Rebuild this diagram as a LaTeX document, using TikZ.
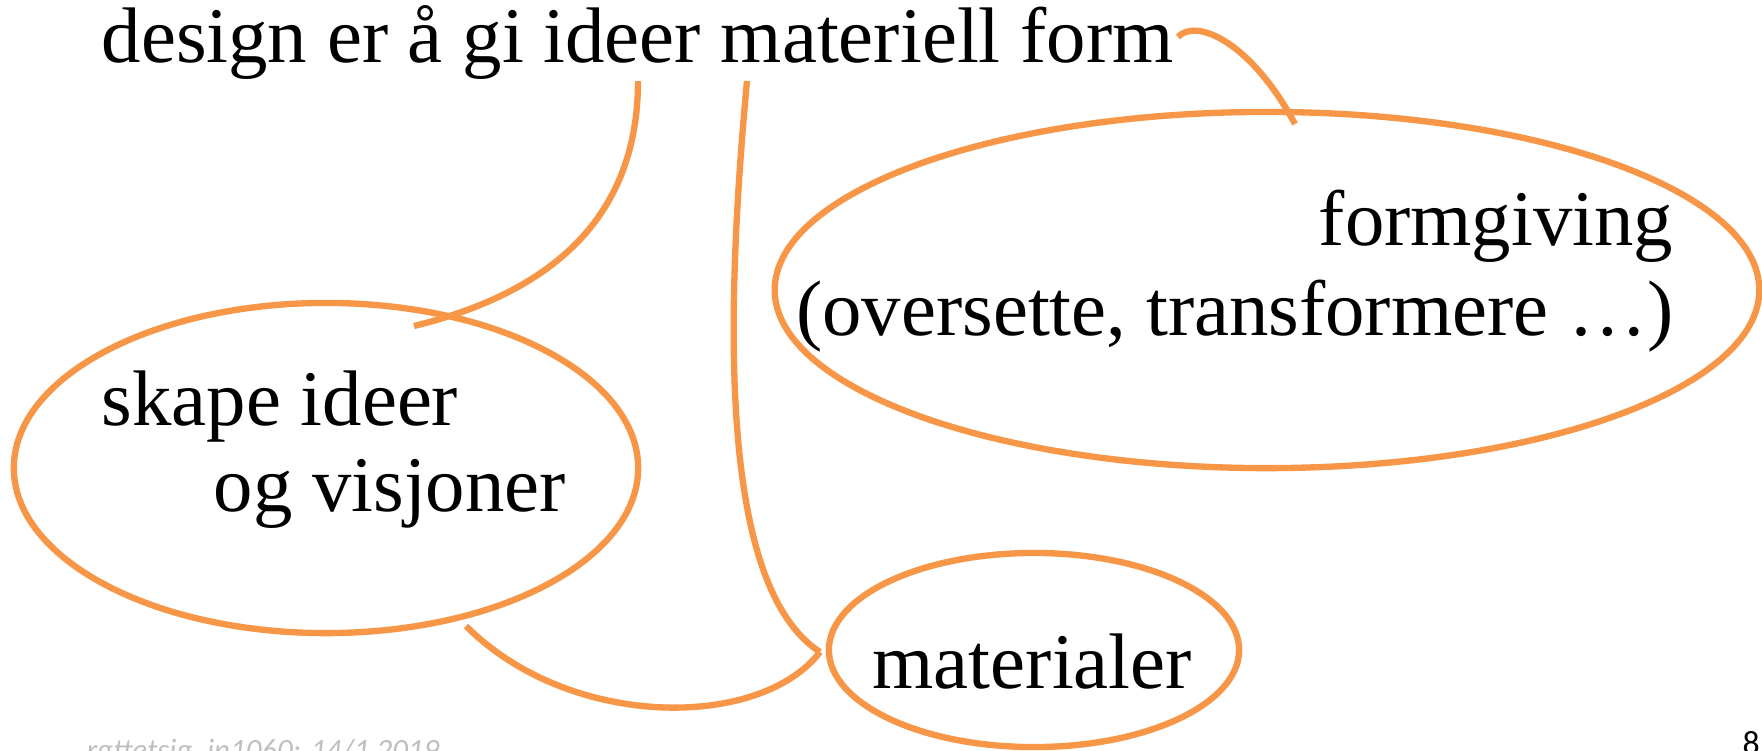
\documentclass[tikz,border=0pt]{standalone}
\usepackage{fontspec}
\setmainfont{Liberation Serif}
\newfontfamily\footfont{Carlito}
\usetikzlibrary{shapes.geometric}
\definecolor{orng}{HTML}{F79646}
\definecolor{footgray}{HTML}{BFBFBF}
\begin{document}
\begin{tikzpicture}[x=0.01cm,y=-0.01cm,
  ell/.style={ellipse, draw=orng, line width=1.8pt, inner sep=0pt},
  lnk/.style={draw=orng, line width=1.8pt},
  txt/.style={inner sep=0pt, font=\fontsize{22.4pt}{27pt}\selectfont, text=black},
  foot/.style={inner sep=0pt, font=\footfont\itshape\fontsize{8.8pt}{10pt}\selectfont, text=footgray},
  pnum/.style={inner sep=0pt, font=\footfont\fontsize{9.6pt}{11pt}\selectfont, text=black}]
\useasboundingbox (0,0) rectangle (1762,750);
\clip (0,0) rectangle (1762,750);
\fill[white] (0,0) rectangle (1762,750);
% ellipses
\node[ell, minimum width=6.24cm, minimum height=3.30cm] (le) at (326,468) {};
\node[ell, minimum width=9.84cm, minimum height=3.56cm] (re) at (1267,290) {};
\node[ell, minimum width=4.10cm, minimum height=1.94cm] (be) at (1034,650) {};
% texts
\node[txt, anchor=base west] (title) at (101,62) {design er å gi ideer materiell form};
\node[txt, anchor=base west] (sk1) at (101,425) {skape ideer};
\node[txt, anchor=base west] (sk2) at (213,511) {og visjoner};
\node[txt, anchor=base east] (fg1) at (1674,245) {formgiving};
\node[txt, anchor=base east] (fg2) at (1674,335) {(oversette, transformere …)};
\node[txt, anchor=base west] (mat) at (872,688) {materialer};
\node[foot, anchor=base east] (footer) at (440,760) {rgttetsig, in1060: 14/1 2019};
\node[pnum, anchor=base west] (pg) at (1742,754) {8};
% connector end points
\coordinate (a0) at (638,81);
\coordinate (a1) at (414,326);
\coordinate (b0) at (747,81);
\coordinate (b1) at (820,652);
\coordinate (c0) at (466,626);
\coordinate (d0) at (1178,37);
\coordinate (d1) at (1295,124);
% connectors
\draw[lnk] (a0) .. controls (638,240) and (520,300) .. (a1);
\draw[lnk] (b0) .. controls (722,350) and (725,590) .. (b1);
\draw[lnk] (c0) .. controls (570,730) and (760,730) .. (b1);
\draw[lnk] (d0) .. controls (1195,18) and (1250,40) .. (d1);
\end{tikzpicture}
\end{document}
